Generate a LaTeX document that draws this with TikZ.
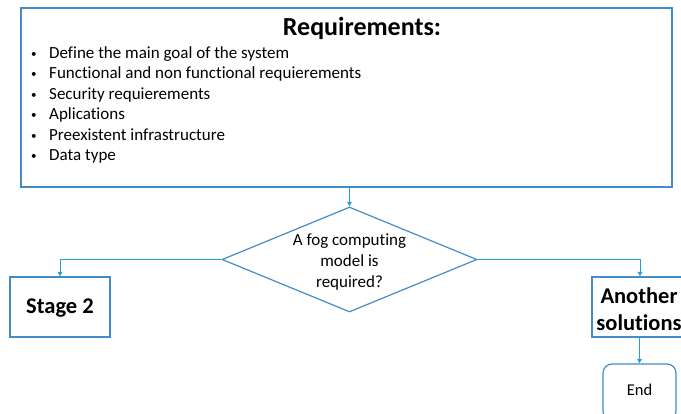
\documentclass[tikz,border=0pt]{standalone}
\usepackage{fontspec}
\setmainfont{Carlito}[Ligatures=NoCommon]
\usetikzlibrary{shapes.geometric,arrows.meta}
\definecolor{frameblue}{RGB}{68,140,200}
\definecolor{linkblue}{RGB}{35,160,220}
\newcommand{\itm}{\makebox[22pt][l]{\hspace{4pt}\raisebox{1pt}{\fontsize{11}{11}\selectfont\textbullet}}}
\tikzset{
  box/.style={draw=frameblue, line width=1.2pt, fill=white, inner sep=0pt},
  link/.style={draw=linkblue, line width=0.9pt, -{Triangle[length=4.5pt,width=4.5pt]}},
  body/.style={font=\fontsize{17}{20.5}\selectfont},
  heavy/.style={font=\fontsize{22.5}{27}\bfseries, align=center},
}
\begin{document}
\begin{tikzpicture}[x=1pt,y=-1pt]
\useasboundingbox (0,0) rectangle (681,413);
\clip (0,0) rectangle (681,413);

% requirements frame
\node[box, minimum width=651pt, minimum height=179pt] (req) at (346.5,97.5) {};
\node[font=\fontsize{26}{28}\bfseries] (title) at (362,28) {Requirements:};
\node[body, anchor=north west, align=left, inner sep=0pt] (items) at (27,46)
  {\itm Define the main goal of the system\\
   \itm Functional and non functional requierements\\
   \itm Security requierements\\
   \itm Aplications\\
   \itm Preexistent infrastructure\\
   \itm Data type};

% decision
\node[draw=frameblue, line width=1.2pt, diamond, aspect=2.45, minimum width=255pt, minimum height=105pt, inner sep=0pt] (ask) at (349.5,259.5) {};
\node[font=\fontsize{17}{21}\selectfont, align=center] (asktxt) at (349.5,262) {A fog computing\\model is\\required?};

% outcomes
\node[box, minimum width=100pt, minimum height=60pt] (stage) at (60,307) {};
\node[heavy] (stagetxt) at (60,308.5) {Stage 2};
\node[box, minimum width=96pt, minimum height=60pt] (other) at (640,307) {};
\node[heavy] (othertxt) at (639,309) {Another\\solutions};
\node[box, rounded corners=9pt, minimum width=73pt, minimum height=56pt] (finish) at (639.5,392) {};
\node[font=\fontsize{16.5}{20}\selectfont] (endtxt) at (639.5,390) {End};

% connectors
\draw[link] (req.south -| ask.north) -- (ask.north);
\draw[link] (ask.west) -| (stage.north);
\draw[link] (ask.east) -| (other.north);
\draw[link] (other.south -| finish.north) -- (finish.north);
\end{tikzpicture}
\end{document}
